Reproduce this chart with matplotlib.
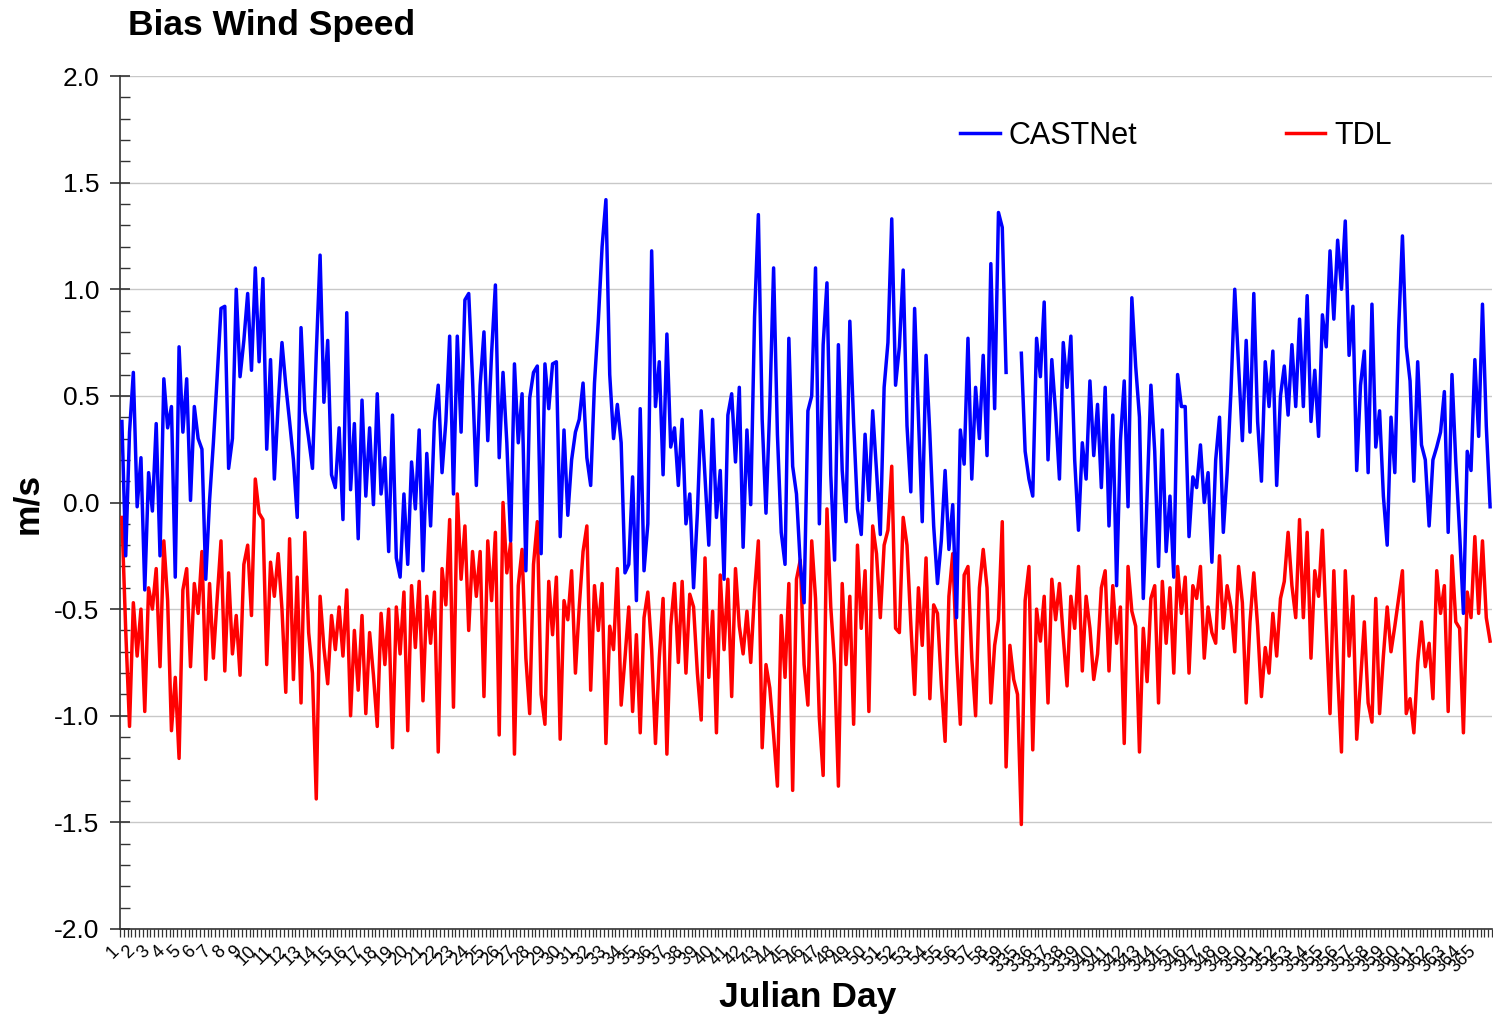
import numpy as np
import matplotlib
matplotlib.use('Agg')
import matplotlib.pyplot as plt
from matplotlib.ticker import MultipleLocator, FixedLocator, FormatStrFormatter
from matplotlib.transforms import ScaledTranslation

plt.rcParams['font.family'] = ['Liberation Sans', 'DejaVu Sans']

# julian days shown on the axis (Jan-Feb, then Dec), 4 values per day
DAYS = list(range(1, 60)) + list(range(335, 366))
STEPS_PER_DAY = 4

# CASTNet bias (m/s), None = missing
castnet = [
    0.38, -0.25, 0.33, 0.61, -0.02, 0.21, -0.41, 0.14, -0.04, 0.37,
    -0.25, 0.58, 0.35, 0.45, -0.35, 0.73, 0.33, 0.58, 0.01, 0.45,
    0.30, 0.25, -0.36, 0.01, 0.28, 0.59, 0.91, 0.92, 0.16, 0.30,
    1.00, 0.59, 0.76, 0.98, 0.62, 1.10, 0.66, 1.05, 0.25, 0.67,
    0.11, 0.46, 0.75, 0.55, 0.38, 0.20, -0.07, 0.82, 0.43, 0.30,
    0.16, 0.70, 1.16, 0.47, 0.76, 0.13, 0.07, 0.35, -0.08, 0.89,
    0.06, 0.37, -0.17, 0.48, 0.03, 0.35,
    -0.01, 0.51, 0.04, 0.21, -0.23, 0.41, -0.26, -0.35, 0.04, -0.29,
    0.19, -0.03, 0.34, -0.32, 0.23, -0.11, 0.38, 0.55, 0.14, 0.38,
    0.78, 0.04, 0.78, 0.33, 0.95, 0.98, 0.58, 0.08, 0.55, 0.80,
    0.29, 0.70, 1.02, 0.21, 0.61, 0.28, -0.18, 0.65, 0.28, 0.51,
    -0.32, 0.49, 0.61, 0.64, -0.24, 0.65, 0.44, 0.65, 0.66, -0.16,
    0.34, -0.06, 0.20, 0.33, 0.39, 0.56, 0.21, 0.08, 0.56, 0.85,
    1.20, 1.42, 0.60, 0.30, 0.46,
    0.28, -0.33, -0.29, 0.12, -0.46, 0.44, -0.32, -0.10, 1.18, 0.45,
    0.66, 0.13, 0.79, 0.26, 0.35, 0.08, 0.39, -0.10, 0.04, -0.40,
    -0.05, 0.43, 0.12, -0.20, 0.39, -0.07, 0.15, -0.36, 0.41, 0.51,
    0.19, 0.54, -0.21, 0.34, -0.01, 0.87, 1.35, 0.39, -0.05, 0.45,
    1.10, 0.32, -0.14, -0.29, 0.77, 0.17, 0.04, -0.29, -0.47, 0.43,
    0.50, 1.10, -0.10, 0.74, 1.03, 0.13, -0.27, 0.74, 0.15, -0.09,
    0.85, 0.37, -0.03,
    -0.15, 0.32, 0.01, 0.43, 0.15, -0.15, 0.54, 0.75, 1.33, 0.55,
    0.73, 1.09, 0.36, 0.05, 0.91, 0.40, -0.09, 0.69, 0.32, -0.11,
    -0.38, -0.18, 0.15, -0.22, -0.01, -0.54, 0.34, 0.18, 0.77, 0.11,
    0.54, 0.30, 0.69, 0.22, 1.12, 0.44, 1.36, 1.29, 0.61, None,
    None, None, 0.70, 0.24, 0.11, 0.03, 0.77, 0.59, 0.94, 0.20,
    0.67, 0.42, 0.11, 0.75, 0.54, 0.78, 0.20, -0.13, 0.28, 0.11,
    0.57, 0.22, 0.46, 0.07, 0.54, -0.11,
    0.41, -0.39, 0.29, 0.57, -0.02, 0.96, 0.64, 0.40, -0.45, 0.03,
    0.55, 0.24, -0.30, 0.34, -0.23, 0.03, -0.35, 0.60, 0.45, 0.45,
    -0.16, 0.12, 0.07, 0.27, 0.00, 0.14, -0.28, 0.20, 0.40, -0.14,
    0.14, 0.52, 1.00, 0.64, 0.29, 0.76, 0.33, 0.98, 0.38, 0.10,
    0.66, 0.45, 0.71, 0.08, 0.50, 0.64, 0.41, 0.74, 0.45, 0.86,
    0.45, 0.97, 0.38, 0.62, 0.31, 0.88, 0.73, 1.18, 0.86,
    1.23, 1.00, 1.32, 0.69, 0.92, 0.15, 0.55, 0.71, 0.14, 0.93,
    0.26, 0.43, 0.03, -0.20, 0.40, 0.14, 0.81, 1.25, 0.73, 0.57,
    0.10, 0.66, 0.27, 0.20, -0.11, 0.20, 0.26, 0.33, 0.52, -0.14,
    0.60, 0.19, -0.14, -0.52, 0.24, 0.15, 0.67, 0.31, 0.93, 0.36,
    -0.02,
]

# TDL bias (m/s)
tdl = [
    -0.07, -0.60, -1.05, -0.47, -0.72, -0.50, -0.98, -0.40, -0.50, -0.31,
    -0.77, -0.18, -0.46, -1.07, -0.82, -1.20, -0.41, -0.31, -0.77, -0.38,
    -0.52, -0.23, -0.83, -0.38, -0.73, -0.45, -0.18, -0.79, -0.33, -0.71,
    -0.53, -0.81, -0.29, -0.20, -0.53, 0.11, -0.05, -0.08, -0.76, -0.28,
    -0.44, -0.24, -0.50, -0.89, -0.17, -0.83, -0.35, -0.94, -0.14, -0.61,
    -0.80, -1.39, -0.44, -0.68, -0.85, -0.53, -0.69, -0.49, -0.72, -0.41,
    -1.00, -0.60, -0.88, -0.53, -0.99, -0.61,
    -0.81, -1.05, -0.52, -0.76, -0.50, -1.15, -0.49, -0.71, -0.42, -1.07,
    -0.39, -0.68, -0.37, -0.93, -0.44, -0.66, -0.42, -1.17, -0.31, -0.48,
    -0.08, -0.96, 0.04, -0.36, -0.11, -0.60, -0.23, -0.44, -0.23, -0.91,
    -0.18, -0.46, -0.14, -1.09, 0.00, -0.33, -0.19, -1.18, -0.39, -0.22,
    -0.73, -0.99, -0.29, -0.09, -0.90, -1.04, -0.37, -0.62, -0.35, -1.11,
    -0.46, -0.55, -0.32, -0.80, -0.49, -0.23, -0.11, -0.88, -0.39, -0.60,
    -0.38, -1.13, -0.58, -0.69, -0.31,
    -0.95, -0.73, -0.49, -0.98, -0.62, -1.08, -0.54, -0.42, -0.69, -1.13,
    -0.73, -0.45, -1.18, -0.58, -0.38, -0.75, -0.37, -0.80, -0.43, -0.49,
    -0.80, -1.02, -0.26, -0.82, -0.51, -1.08, -0.34, -0.69, -0.36, -0.91,
    -0.31, -0.58, -0.71, -0.51, -0.75, -0.42, -0.18, -1.15, -0.76, -0.87,
    -1.09, -1.33, -0.53, -0.82, -0.38, -1.35, -0.36, -0.27, -0.76, -0.95,
    -0.18, -0.45, -1.01, -1.28, -0.03, -0.49, -0.76, -1.33, -0.38, -0.76,
    -0.44, -1.04, -0.20,
    -0.59, -0.32, -0.98, -0.11, -0.24, -0.54, -0.20, -0.13, 0.17, -0.59,
    -0.61, -0.07, -0.20, -0.57, -0.90, -0.40, -0.67, -0.26, -0.92, -0.48,
    -0.52, -0.85, -1.12, -0.44, -0.24, -0.71, -1.04, -0.34, -0.30, -0.73,
    -1.00, -0.40, -0.22, -0.40, -0.94, -0.67, -0.55, -0.09, -1.24, -0.67,
    -0.83, -0.90, -1.51, -0.46, -0.30, -1.16, -0.50, -0.65, -0.44, -0.94,
    -0.36, -0.55, -0.38, -0.63, -0.86, -0.44, -0.59, -0.30, -0.79, -0.44,
    -0.59, -0.83, -0.71, -0.40, -0.32, -0.79,
    -0.39, -0.66, -0.49, -1.13, -0.30, -0.51, -0.58, -1.17, -0.59, -0.84,
    -0.45, -0.39, -0.94, -0.37, -0.66, -0.40, -0.80, -0.30, -0.52, -0.35,
    -0.80, -0.39, -0.45, -0.30, -0.73, -0.49, -0.61, -0.66, -0.25, -0.59,
    -0.39, -0.49, -0.70, -0.30, -0.47, -0.94, -0.56, -0.33, -0.58, -0.91,
    -0.68, -0.80, -0.52, -0.72, -0.45, -0.37, -0.14, -0.39, -0.54, -0.08,
    -0.54, -0.14, -0.73, -0.32, -0.44, -0.13, -0.58, -0.99, -0.32,
    -0.80, -1.17, -0.32, -0.72, -0.44, -1.11, -0.84, -0.56, -0.94, -1.03,
    -0.45, -0.99, -0.72, -0.49, -0.70, -0.58, -0.45, -0.32, -0.99, -0.92,
    -1.08, -0.75, -0.56, -0.77, -0.66, -0.92, -0.32, -0.52, -0.39, -0.98,
    -0.25, -0.56, -0.59, -1.08, -0.42, -0.54, -0.16, -0.52, -0.18, -0.54,
    -0.65,
]

W, H = 1493, 1019
fig = plt.figure(figsize=(W / 100, H / 100), dpi=100)
ax = fig.add_axes([120 / W, 1 - 929 / H, 1372 / W, 853 / H])

x = np.arange(len(castnet))
l_tdl, = ax.plot(x, np.array(tdl, dtype=float), color='#ff0000', lw=2.5, zorder=3)
l_cast, = ax.plot(x, np.array(castnet, dtype=float), color='#0000ff', lw=2.5, zorder=4)

ax.set_xlim(-0.5, len(castnet) - 0.5)
ax.set_ylim(-2, 2)

# y axis
ax.yaxis.set_major_locator(MultipleLocator(0.5))
ax.yaxis.set_minor_locator(MultipleLocator(0.1))
ax.yaxis.set_major_formatter(FormatStrFormatter('%.1f'))
ax.tick_params(axis='y', which='major', direction='inout', length=14, width=1.2,
               color='#333333', labelsize=19, pad=8)
ax.tick_params(axis='y', which='minor', direction='in', length=7, width=1.0, color='#333333')
ax.grid(axis='y', which='major', color='#c8c8c8', lw=1.0, zorder=0)

# x axis: a tick per value, a label per day
ax.xaxis.set_minor_locator(FixedLocator(np.arange(-0.5, len(castnet), 1)))
ax.set_xticks(np.arange(len(DAYS)) * STEPS_PER_DAY)
ax.set_xticklabels([str(d) for d in DAYS], rotation=45, ha='right', va='center',
                   rotation_mode='anchor', fontsize=13)
ax.tick_params(axis='x', which='major', length=0, pad=14)
ax.tick_params(axis='x', which='minor', direction='out', length=6, width=0.9, color='#333333')
shift = ScaledTranslation(-5 / 100, 0, fig.dpi_scale_trans)
for lab in ax.get_xticklabels():
    lab.set_transform(lab.get_transform() + shift)

for s in ['top', 'right']:
    ax.spines[s].set_visible(False)
for s in ['left', 'bottom']:
    ax.spines[s].set_color('#333333')
    ax.spines[s].set_linewidth(1.2)

fig.text(128 / W, 1 - 26 / H, 'Bias Wind Speed', fontsize=25.5, fontweight='bold',
         ha='left', va='center')
fig.text(28 / W, 1 - 503 / H, 'm/s', fontsize=25.5, fontweight='bold', rotation=90,
         ha='center', va='center')
fig.text(808 / W, 1 - 998 / H, 'Julian Day', fontsize=25.5, fontweight='bold',
         ha='center', va='center')

fig.legend([l_cast, l_tdl], ['CASTNet', 'TDL'], ncol=2, frameon=False, fontsize=22,
           loc='center left', bbox_to_anchor=(960 / W, 1 - 136 / H),
           handlelength=1.3, handletextpad=0.3, columnspacing=4.85,
           borderpad=0, borderaxespad=0)

fig.savefig('out.png', dpi=100)
